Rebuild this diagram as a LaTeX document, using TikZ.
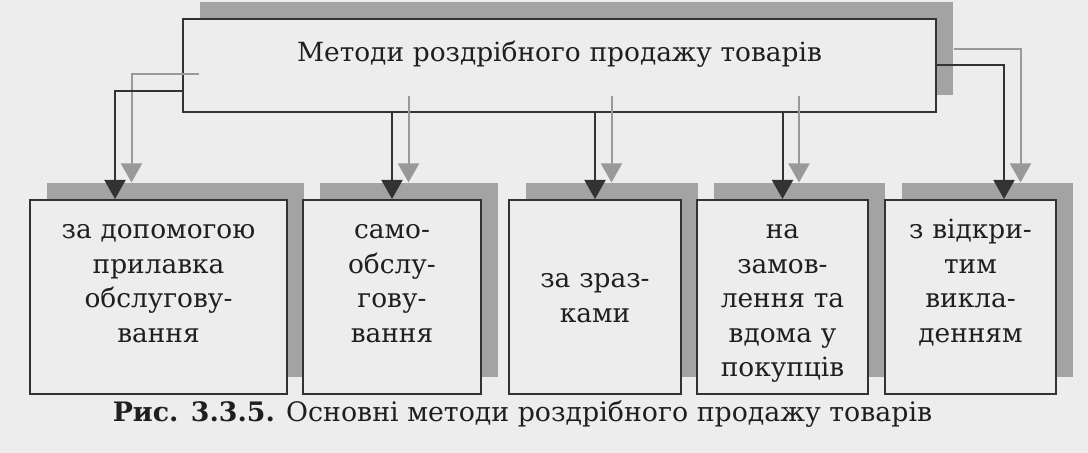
\documentclass[tikz,border=0pt]{standalone}
\usepackage{fontspec}
\setmainfont{DejaVu Serif}
\usepackage{tikz}
\usetikzlibrary{arrows.meta, calc, shadows}
\definecolor{mainBlack}{gray}{0.2}
\definecolor{textBlack}{gray}{0.12}
\definecolor{subGray}{gray}{0.6}
\definecolor{shadowGray}{gray}{0.64}
\definecolor{paperGray}{gray}{0.93}

\begin{document}
\begin{tikzpicture}[x=0.5pt, y=-0.5pt, >={Triangle[width=10.5pt, length=9.5pt]},
    methodBox/.style={draw=mainBlack, line width=1pt, fill=paperGray, inner sep=0pt,
        align=center, text=textBlack, font=\fontsize{13.2pt}{17.2pt}\selectfont,
        drop shadow={shadow xshift=8.25pt, shadow yshift=8.25pt, fill=shadowGray, opacity=1}},
    lowBox/.style={methodBox, text height=19.5pt, text depth=77.5pt},
    mainArrow/.style={->, line width=1pt, mainBlack},
    ghostArrow/.style={->, line width=1pt, subGray}]
    \fill[paperGray] (0,0) rectangle (1088,453);

    % Top box
    \node[methodBox, text width=376.5pt, text height=21.5pt, text depth=25pt] (top) at (559.5,65.5)
        {Методи роздрібного продажу товарів};

    % Methods
    \node[lowBox, text width=128.5pt] (b1) at (158.5,297) {за допомогою\\прилавка\\обслугову-\\вання};
    \node[lowBox, text width=89pt] (b2) at (392,297) {само-\\обслу-\\гову-\\вання};
    \node[lowBox, text width=86pt, text height=44pt, text depth=53pt] (b3) at (595,297) {за зраз-\\ками};
    \node[lowBox, text width=85.5pt] (b4) at (782.5,297) {на\\замов-\\лення та\\вдома у\\покупців};
    \node[lowBox, text width=85.5pt] (b5) at (970.5,297) {з відкри-\\тим\\викла-\\денням};

    % Shadow arrows
    \draw[ghostArrow] ([shift={(8.25pt,-4.5pt)}]top.west) -| ([shift={(-13.5pt,8.25pt)}]b1.north);
    \foreach \b in {b2,b3,b4}
        \draw[ghostArrow] ($(\b.north |- top.south)+(8.25pt,8.25pt)$) -- ([shift={(8.25pt,8.25pt)}]\b.north);
    \draw[ghostArrow] ([shift={(8.25pt,8.25pt)}]top.east) -| ([shift={(25pt,8.25pt)}]b5.north);

    % Arrows
    \draw[mainArrow] ([yshift=-12.75pt]top.west) -| ([xshift=-21.75pt]b1.north);
    \foreach \b in {b2,b3,b4}
        \draw[mainArrow] (\b.north |- top.south) -- (\b.north);
    \draw[mainArrow] (top.east) -| ([xshift=16.75pt]b5.north);

    \node[anchor=base, text=textBlack, font=\fontsize{13.4pt}{15pt}\selectfont] (caption) at (522.5,422)
        {\textbf{Рис. 3.3.5.} Основні методи роздрібного продажу товарів};
\end{tikzpicture}
\end{document}
